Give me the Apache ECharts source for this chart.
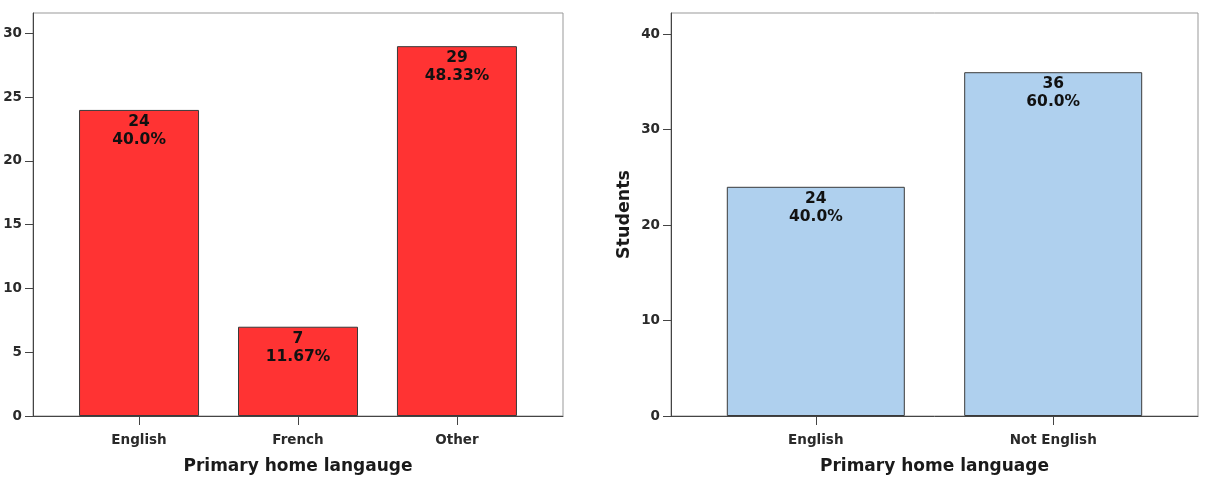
<!DOCTYPE html>
<html>
<head>
<meta charset="utf-8">
<style>
  html, body { margin: 0; padding: 0; background: #fff; }
  #chart { width: 1207px; height: 480px; }
</style>
<script src="https://cdn.jsdelivr.net/npm/echarts@6/dist/echarts.min.js"></script>
</head>
<body>
<div id="chart"></div>
<script>
// left chart: three language groups
const leftCategories = ["English", "French", "Other"];
const leftCounts = [24, 7, 29];
const leftPercents = ["40.0%", "11.67%", "48.33%"];
const leftTicks = [0, 5, 10, 15, 20, 25, 30];

// right chart: English vs not English
const rightCategories = ["English", "Not English"];
const rightCounts = [24, 36];
const rightPercents = ["40.0%", "60.0%"];
const rightTicks = [0, 10, 20, 30, 40];

const FONT = "DejaVu Sans";

function xAxisFor(gridIndex, cats, pad, title) {
  return {
    gridIndex: gridIndex,
    type: "value",
    min: -pad,
    max: cats.length - 1 + pad,
    name: title,
    nameLocation: "middle",
    nameGap: 42,
    nameTextStyle: { fontFamily: FONT, fontSize: 17, fontWeight: "bold", color: "#1a1a1a" },
    splitLine: { show: false },
    axisLine: { show: true, onZero: false, lineStyle: { color: "#444", width: 1 } },
    axisTick: {
      show: true,
      length: 9,
      customValues: cats.map((c, i) => i),
      lineStyle: { color: "#444" },
    },
    axisLabel: {
      margin: 17,
      fontFamily: FONT,
      fontSize: 13.5,
      fontWeight: "bold",
      color: "#2a2a2a",
      customValues: cats.map((c, i) => i),
      formatter: (v) => cats[Math.round(v)],
    },
  };
}

function yAxisFor(gridIndex, ticks, max, title) {
  return {
    gridIndex: gridIndex,
    type: "value",
    min: 0,
    max: max,
    name: title,
    nameLocation: "middle",
    nameGap: 38,
    nameTextStyle: { fontFamily: FONT, fontSize: 17.5, fontWeight: "bold", color: "#1a1a1a" },
    splitLine: { show: false },
    axisLine: { show: true, onZero: false, lineStyle: { color: "#444", width: 1 } },
    axisTick: { show: true, length: 8, customValues: ticks, lineStyle: { color: "#444" } },
    axisLabel: {
      margin: 11,
      fontFamily: FONT,
      fontSize: 13.5,
      fontWeight: "bold",
      color: "#2a2a2a",
      customValues: ticks,
    },
  };
}

function barSeries(index, counts, percents, color, width) {
  return {
    type: "bar",
    xAxisIndex: index,
    yAxisIndex: index,
    barWidth: width,
    data: counts.map((v, i) => [i, v]),
    itemStyle: { color: color, borderColor: "#3a3a3a", borderWidth: 1 },
    label: {
      show: true,
      position: "insideTop",
      distance: 3,
      fontFamily: FONT,
      fontSize: 15.5,
      fontWeight: "bold",
      lineHeight: 18,
      color: "#111",
      formatter: (p) => counts[p.dataIndex] + "\n" + percents[p.dataIndex],
    },
  };
}

const chart = echarts.init(document.getElementById("chart"));
chart.setOption({
  animation: false,
  backgroundColor: "#fff",
  grid: [
    { left: 33, right: 644, top: 13, bottom: 64, show: true, borderColor: "#999", borderWidth: 1 },
    { left: 671, right: 9, top: 13, bottom: 64, show: true, borderColor: "#999", borderWidth: 1 },
  ],
  xAxis: [
    xAxisFor(0, leftCategories, 0.667, "Primary home langauge"),
    xAxisFor(1, rightCategories, 0.61, "Primary home language"),
  ],
  yAxis: [
    yAxisFor(0, leftTicks, 31.6, ""),
    yAxisFor(1, rightTicks, 42.2, "Students"),
  ],
  series: [
    barSeries(0, leftCounts, leftPercents, "#ff3333", 120),
    barSeries(1, rightCounts, rightPercents, "#afd0ee", 178),
  ],
});
</script>
</body>
</html>
